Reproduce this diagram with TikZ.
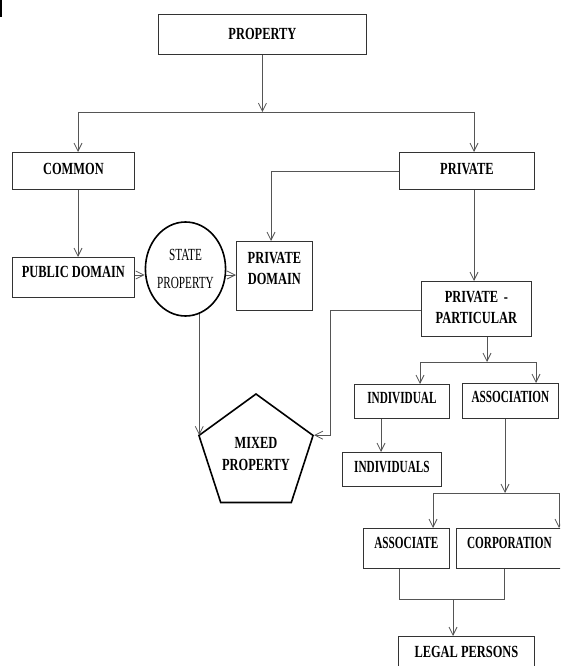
\documentclass[tikz,border=0pt]{standalone}
\usepackage{fontspec}
\usetikzlibrary{arrows.meta,shapes.geometric}
\newfontfamily\cfw[FakeStretch=0.73]{Liberation Serif}
\newfontfamily\cfn[FakeStretch=0.66]{Liberation Serif}
\definecolor{bcol}{HTML}{333333}
\definecolor{lcol}{HTML}{555555}
\tikzset{
  bx/.style={draw=bcol, line width=0.8pt, inner xsep=0pt, inner ysep=0pt, anchor=north west,
    font=\cfw\bfseries\fontsize{17}{21}\selectfont},
  bxn/.style={bx, font=\cfn\bfseries\fontsize{17}{21}\selectfont},
  ln/.style={draw=lcol, line width=0.8pt},
  arr/.style={ln, -{Straight Barb[length=8pt,width=8pt]}},
}
\begin{document}
\begin{tikzpicture}[x=1pt,y=-1pt]
\useasboundingbox (0,0) rectangle (560,666);
\clip (0,0) rectangle (560,666);
\fill[black] (0,0) rectangle (2,17);
% boxes
\node[bx, minimum width=208pt, text height=25pt, text depth=15pt] (prop) at (158,14) {PROPERTY};
\node[bx, minimum width=122pt, text height=22pt, text depth=15pt] (common) at (12,152) {COMMON};
\node[bx, minimum width=135pt, text height=22pt, text depth=15pt] (private) at (399,152) {PRIVATE};
\node[bx, minimum width=122pt, text height=20pt, text depth=20pt] (pubdom) at (12,257) {PUBLIC DOMAIN};
\node[bx, minimum width=76pt, text width=76pt, align=center, text height=22pt, text depth=47pt] (privdom) at (236,241) {PRIVATE\\DOMAIN};
\node[bx, minimum width=110pt, text width=110pt, align=center, text height=21pt, text depth=34pt] (pp) at (421,281) {PRIVATE -\\PARTICULAR};
\node[bxn, minimum width=95pt, text height=19pt, text depth=15pt] (indiv) at (354,384) {INDIVIDUAL};
\node[bxn, minimum width=96pt, text height=19pt, text depth=16pt] (assoc) at (462,383) {ASSOCIATION};
\node[bxn, minimum width=99pt, text height=20pt, text depth=14pt] (indivs) at (342,452) {INDIVIDUALS};
\node[bxn, minimum width=86pt, text height=20pt, text depth=20pt] (associate) at (363,528) {ASSOCIATE};
\node[bxn, minimum width=106pt, text height=20pt, text depth=20pt] (corp) at (456,528) {CORPORATION};
\node[bx, minimum width=136pt, text height=21pt, text depth=24pt] (legal) at (398,636) {LEGAL PERSONS};
% ellipse and pentagon
\node[draw=black, line width=1.6pt, ellipse, minimum width=77pt, minimum height=94pt, inner sep=0pt,
  align=center, font=\cfn\fontsize{17}{28}\selectfont] (state) at (185.5,269) {STATE\\PROPERTY};
\node[draw=black, line width=1.6pt, regular polygon, regular polygon sides=5, minimum size=120pt, inner sep=0pt,
  align=center, font=\cfw\bfseries\fontsize{17}{22}\selectfont] (mixed) at (256,454) {MIXED\\PROPERTY};
% coordinates
\coordinate (hL) at (78,112);
\coordinate (hR) at (474,112);
\coordinate (r1) at (0,275);
\coordinate (cPD) at (271,171);
\coordinate (cM) at (330,310);
\coordinate (sp) at (487,362);
\coordinate (sL) at (420,362);
\coordinate (sR) at (536,362);
\coordinate (cI) at (381,0);
\coordinate (aj) at (505,493);
\coordinate (aL) at (433,493);
\coordinate (aR) at (559,493);
\coordinate (mL) at (399,599);
\coordinate (mR) at (504,599);
\coordinate (mC) at (453,599);
% connectors
\draw[arr] (prop.south) -- (prop.south |- hL);
\draw[ln] (hL) -- (hR);
\draw[arr] (hL) -- (hL |- common.north);
\draw[arr] (hR) -- (hR |- private.north);
\draw[arr] (common.south -| hL) -- (pubdom.north -| hL);
\draw[arr] (pubdom.east |- r1) -- (state.west |- r1);
\draw[arr] (state.east |- r1) -- (privdom.west |- r1);
\draw[arr] (private.west) -| (cPD |- privdom.north);
\draw[arr] (private.south -| hR) -- (pp.north -| hR);
\draw[arr] (pp.west |- cM) -- (cM) |- (mixed.corner 5);
\draw[arr] (state.-73) -- (state.-73 |- mixed.corner 2);
\draw[arr] (pp.south -| sp) -- (sp);
\draw[ln] (sL) -- (sR);
\draw[arr] (sL) -- (sL |- indiv.north);
\draw[arr] (sR) -- (sR |- assoc.north);
\draw[arr] (indiv.south -| cI) -- (indivs.north -| cI);
\draw[arr] (assoc.south -| aj) -- (aj);
\draw[ln] (aL) -- (aR);
\draw[arr] (aL) -- (aL |- associate.north);
\draw[arr] (aR) -- (aR |- corp.north);
\draw[ln] (associate.south -| mL) -- (mL) -- (mR) -- (corp.south -| mR);
\draw[arr] (mC) -- (mC |- legal.north);
\end{tikzpicture}
\end{document}
